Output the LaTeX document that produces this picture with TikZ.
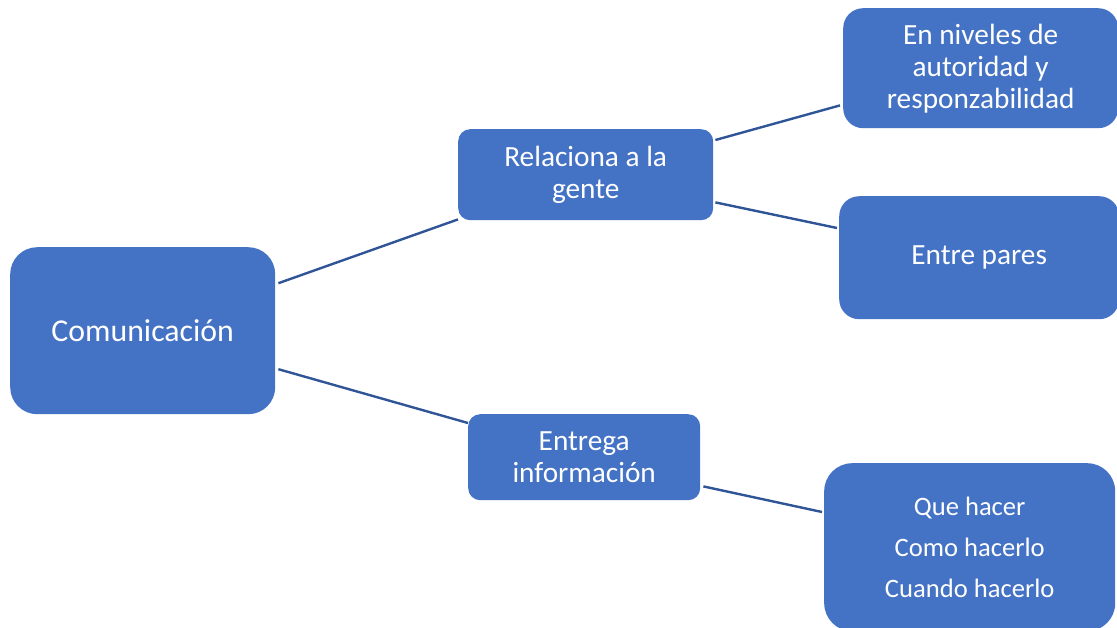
\documentclass[tikz,border=0pt]{standalone}
\usepackage{fontspec}
\setmainfont{Carlito}
\definecolor{boxblue}{RGB}{68,114,196}
\definecolor{linkblue}{RGB}{47,85,151}
\begin{document}
\begin{tikzpicture}[x=1pt,y=-1pt,
  box/.style={fill=boxblue,draw=none,text=white,align=center,inner sep=0pt,anchor=north west},
  link/.style={draw=linkblue,line width=2.4pt},
  txt/.style={font=\fontsize{29.3}{32}\selectfont}]
\useasboundingbox (0,0) rectangle (1117,627);
\clip (0,0) rectangle (1117,627);
\node[box,rounded corners=27pt,minimum width=265pt,minimum height=167pt,font=\fontsize{31.8}{36}\selectfont] (com) at (10,247) {Comunicación};
\node[box,txt,rounded corners=12pt,minimum width=255pt,minimum height=91pt] (rel) at (458,129) {Relaciona a la\\gente};
\node[box,txt,rounded corners=12pt,minimum width=232pt,minimum height=86pt] (ent) at (468,414) {Entrega\\información};
\node[box,txt,rounded corners=20pt,minimum width=275pt,minimum height=120pt] (niv) at (843,8) {En niveles de\\autoridad y\\responzabilidad};
\node[box,txt,rounded corners=20pt,minimum width=280pt,minimum height=123pt] (par) at (839,196) {Entre pares};
\node[box,rounded corners=28pt,minimum width=291pt,minimum height=168pt,font=\fontsize{26.6}{41}\selectfont] (que) at (824,463) {Que hacer\\Como hacerlo\\Cuando hacerlo};
\draw[link] ([xshift=3pt,yshift=47.5pt]com.east) -- ([yshift=1pt]rel.south west);
\draw[link] ([xshift=3pt,yshift=-38.5pt]com.east) -- ([yshift=-9pt]ent.north west);
\draw[link] ([xshift=2pt,yshift=-11pt]rel.north east) -- ([xshift=-3pt,yshift=23pt]niv.south west);
\draw[link] ([xshift=2pt,yshift=18pt]rel.south east) -- ([xshift=-2pt,yshift=-32pt]par.north west);
\draw[link] ([xshift=3pt,yshift=14pt]ent.south east) -- ([xshift=-2pt,yshift=-49pt]que.north west);
\end{tikzpicture}
\end{document}
